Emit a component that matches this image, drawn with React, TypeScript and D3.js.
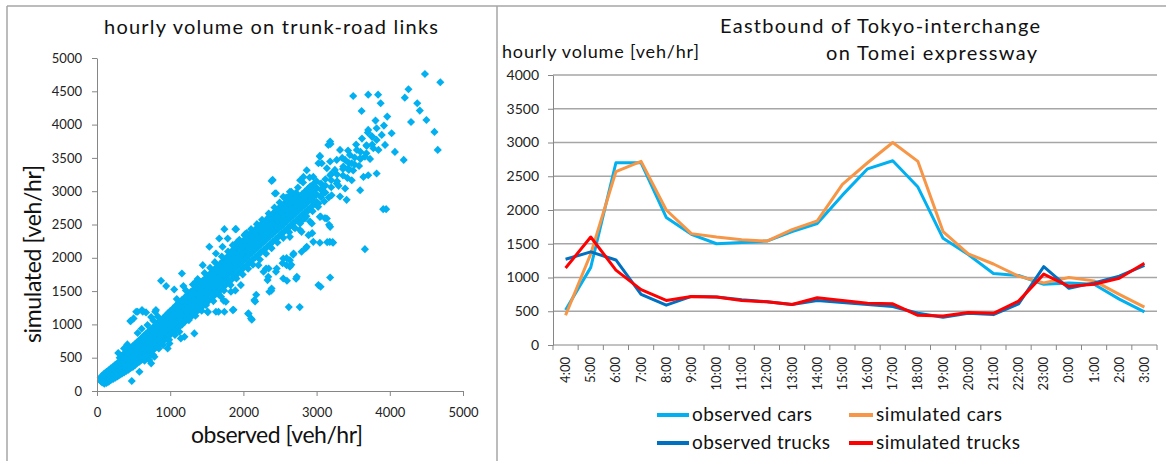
import React, { useEffect, useRef } from 'react';
import * as d3 from 'd3';

const FONT = "Lato, 'Open Sans', sans-serif";

// ---- right chart: hourly volume on the Tomei expressway ----
const HOURS = [
  '4:00', '5:00', '6:00', '7:00', '8:00', '9:00', '10:00', '11:00', '12:00', '13:00', '14:00', '15:00',
  '16:00', '17:00', '18:00', '19:00', '20:00', '21:00', '22:00', '23:00', '0:00', '1:00', '2:00', '3:00',
];
const OBSERVED_CARS = [
  520, 1150, 2700, 2700, 1890, 1640, 1500, 1520, 1540, 1680, 1800, 2220,
  2610, 2730, 2340, 1580, 1340, 1060, 1030, 900, 920, 900, 680, 490,
];
const SIMULATED_CARS = [
  440, 1350, 2570, 2720, 2000, 1650, 1600, 1560, 1540, 1710, 1840, 2380,
  2700, 3000, 2720, 1680, 1350, 1200, 1020, 920, 1000, 950, 750, 560,
];
const OBSERVED_TRUCKS = [
  1270, 1380, 1260, 750, 590, 720, 710, 670, 640, 600, 660, 630,
  600, 570, 470, 410, 470, 450, 610, 1160, 840, 920, 1020, 1180,
];
const SIMULATED_TRUCKS = [
  1140, 1600, 1110, 820, 660, 720, 710, 660, 640, 600, 700, 660,
  620, 610, 440, 430, 480, 470, 650, 1050, 870, 900, 990, 1210,
];
const VOLUME_TICKS = [0, 500, 1000, 1500, 2000, 2500, 3000, 3500, 4000];

const SERIES = [
  { name: 'observed cars', values: OBSERVED_CARS, color: '#00b0f0' },
  { name: 'simulated cars', values: SIMULATED_CARS, color: '#f79646' },
  { name: 'observed trucks', values: OBSERVED_TRUCKS, color: '#0070c0' },
  { name: 'simulated trucks', values: SIMULATED_TRUCKS, color: '#ff0000' },
];

// ---- left chart: observed vs simulated on trunk-road links ----
const LINK_TICKS = [0, 500, 1000, 1500, 2000, 2500, 3000, 3500, 4000, 4500, 5000];
const OBS_TICKS = [0, 1000, 2000, 3000, 4000, 5000];

// dense band: observed value -> simulated values read off the cloud
const BAND_ROWS: [number, number[]][] = [
  [50, [150, 200]], [70, [130, 185, 230]], [100, [110, 160, 215, 260]], [130, [120, 175, 240, 290]],
  [160, [140, 200, 255, 310]], [190, [165, 230, 285, 340]], [220, [180, 245, 305, 365]],
  [250, [200, 270, 330, 395]], [280, [220, 290, 350, 420]], [310, [240, 310, 375, 440, 500]],
  [340, [260, 330, 400, 465, 530]], [370, [280, 355, 420, 490, 560]], [400, [300, 375, 445, 515, 590]],
  [430, [320, 400, 470, 545, 620]], [460, [345, 420, 495, 570, 645]], [490, [360, 445, 520, 600, 675]],
  [520, [390, 470, 545, 625, 705]], [550, [420, 495, 575, 655, 735]], [580, [440, 525, 600, 680, 765]],
  [610, [470, 550, 630, 710, 795]], [640, [500, 580, 660, 740, 830]], [670, [525, 610, 690, 770, 860]],
  [700, [555, 640, 720, 800, 890]], [730, [580, 665, 750, 830, 915]], [760, [610, 695, 780, 860, 945]],
  [790, [640, 725, 810, 890, 975]], [820, [665, 755, 840, 920, 1005]], [850, [700, 785, 870, 950, 1040]],
  [880, [725, 815, 900, 985, 1070]], [910, [755, 845, 930, 1015, 1100]], [940, [785, 875, 960, 1045, 1135]],
  [970, [815, 905, 990, 1075, 1165]], [1000, [845, 935, 1025, 1110, 1200]], [1040, [880, 975, 1060, 1150, 1240]],
  [1080, [920, 1015, 1100, 1190, 1285]], [1120, [960, 1055, 1140, 1230, 1320]], [1160, [995, 1090, 1185, 1275, 1365]],
  [1200, [1040, 1130, 1225, 1315, 1405]], [1240, [1075, 1170, 1265, 1355, 1445]], [1280, [1110, 1210, 1300, 1395, 1485]],
  [1320, [1150, 1250, 1345, 1435, 1525]], [1360, [1190, 1290, 1385, 1475, 1565]], [1400, [1230, 1330, 1425, 1515, 1610]],
  [1440, [1270, 1370, 1465, 1555, 1650]], [1480, [1310, 1410, 1505, 1600, 1690]], [1520, [1350, 1455, 1545, 1640, 1735]],
  [1560, [1390, 1495, 1590, 1680, 1775]], [1600, [1430, 1535, 1630, 1725, 1820]], [1640, [1470, 1575, 1670, 1765, 1860]],
  [1680, [1510, 1615, 1715, 1810, 1905]], [1720, [1550, 1660, 1755, 1850, 1950]], [1760, [1595, 1700, 1800, 1895, 1990]],
  [1800, [1635, 1745, 1840, 1940, 2035]], [1840, [1675, 1785, 1885, 1980, 2080]], [1880, [1720, 1830, 1930, 2025, 2125]],
  [1920, [1760, 1870, 1970, 2070, 2170]], [1960, [1800, 1915, 2015, 2110, 2210]], [2000, [1845, 1955, 2055, 2155, 2255]],
  [2040, [1885, 1995, 2100, 2195, 2295]], [2080, [1925, 2040, 2140, 2240, 2340]], [2120, [1965, 2080, 2180, 2280, 2380]],
  [2160, [2005, 2120, 2220, 2320, 2420]], [2200, [2045, 2160, 2260, 2360, 2460]], [2240, [2085, 2200, 2300, 2400, 2500]],
  [2280, [2120, 2240, 2340, 2440, 2540]], [2320, [2160, 2280, 2380, 2480, 2580]], [2360, [2200, 2320, 2420, 2520, 2620]],
  [2400, [2240, 2360, 2460, 2560, 2660]], [2440, [2280, 2400, 2500, 2600, 2700]], [2480, [2320, 2435, 2540, 2640, 2740]],
  [2520, [2360, 2475, 2575, 2680, 2780]], [2560, [2400, 2515, 2615, 2715, 2815]], [2600, [2440, 2555, 2655, 2755, 2855]],
  [2640, [2480, 2595, 2695, 2795, 2895]], [2680, [2520, 2635, 2735, 2835, 2935]], [2720, [2560, 2675, 2775, 2875, 2975]],
  [2760, [2600, 2715, 2815, 2915]], [2800, [2640, 2755, 2855, 2955]], [2840, [2680, 2795, 2895, 2995]],
  [2880, [2720, 2835, 2935, 3035]], [2920, [2760, 2875, 2975, 3075]], [2960, [2800, 2915, 3015, 3110]],
  [3000, [2840, 2955, 3050, 3150]], [3060, [2910, 3020, 3115]], [3120, [2980, 3085, 3180]],
  [3200, [3060, 3165, 3260]], [3280, [3150, 3250]], [3360, [3235, 3335]], [3440, [3320, 3425]],
  [3520, [3400, 3505]], [3600, [3485, 3590]], [3680, [3570, 3690]], [3760, [3700, 3820]],
];

// ragged edges of the band
const FRINGE: [number, number][] = [
  [290, 570], [370, 640], [415, 700], [555, 870], [610, 935], [690, 990], [770, 1060], [830, 1120],
  [650, 455], [715, 520], [765, 545], [845, 640], [905, 690], [985, 770], [1065, 840], [1090, 1380],
  [1215, 1510], [1310, 1600], [1375, 1680], [1470, 1770], [1545, 1850], [1610, 1935], [1255, 1065],
  [1345, 1130], [1430, 1205], [1490, 1290], [1590, 1350], [1665, 1450], [1735, 1510], [1825, 1590],
  [1905, 1690], [1990, 1750], [2065, 1835], [2130, 1895], [2225, 1975], [2310, 2060], [1705, 2020],
  [1790, 2095], [1855, 2190], [1945, 2270], [2015, 2340], [2105, 2430], [2185, 2505], [2255, 2570],
  [2345, 2665], [2425, 2755], [2495, 2830], [2585, 2905], [2655, 2990], [2745, 3055], [2815, 3130],
  [2905, 3205], [2385, 2145], [2465, 2230], [2545, 2300], [2625, 2385], [2705, 2445], [2785, 2545],
  [2860, 2625], [2945, 2700], [3020, 2765], [3105, 2845], [3165, 2905], [3300, 3080], [3420, 3200],
  [3500, 3310], [3580, 3380], [3350, 3500], [3430, 3610], [3540, 3700], [3620, 3790], [3700, 3880],
];

// scattered links away from the band
const OUTLIERS: [number, number][] = [
  [4480, 4760], [4690, 4635], [3500, 4430], [3705, 4450], [3840, 4450], [3875, 4320], [3615, 4205],
  [4205, 4405], [4255, 4530], [4375, 4320], [4410, 4210], [4290, 4040], [4500, 4070], [4610, 3890],
  [4655, 3620], [3965, 4120], [4025, 3870], [4070, 3590], [4190, 3470], [3805, 4060], [3705, 3920],
  [3820, 3945], [3920, 3985], [3890, 3845], [3935, 3695], [3820, 3770], [3755, 3820], [3775, 3645],
  [3845, 3620], [3685, 3680], [3660, 3520], [3730, 3485], [3595, 3495], [3550, 3620], [3455, 3545],
  [3480, 3420], [3390, 3470], [3365, 3370], [3435, 3345], [3320, 3620], [3185, 3745], [3160, 3695],
  [3045, 3520], [3070, 3420], [3140, 3345], [3185, 3445], [3250, 3320], [3275, 3470], [3820, 3265],
  [3705, 3240], [3640, 3215], [3480, 3165], [3595, 3015], [3390, 3040], [3275, 3115], [3185, 3240],
  [3320, 2920], [3410, 2870], [3205, 2940], [3910, 2730], [3950, 2730], [3660, 2130], [3180, 2240],
  [3225, 2225], [3045, 2225], [3025, 1590], [3055, 1565], [3185, 1705], [2385, 3155], [2430, 2965],
  [2545, 2915], [2635, 2990], [2775, 3165], [2820, 3215], [2955, 3215], [2865, 3315], [3025, 3420],
  [2910, 3065], [3095, 3065], [3070, 2940], [3025, 2815], [2935, 2865], [2890, 2715], [2840, 2590],
  [2935, 2515], [3045, 2615], [3140, 2590], [3185, 2465], [2775, 2515], [2685, 2465], [2635, 2315],
  [2795, 2390], [2890, 2340], [2955, 2240], [2865, 2165], [2795, 2090], [2685, 2065], [2635, 1965],
  [2545, 1990], [2635, 1865], [2730, 1715], [2545, 1690], [2455, 1840], [2385, 1540], [2340, 1715],
  [2275, 1790], [2205, 1890], [2175, 1445], [1890, 2430], [2025, 2355], [1910, 2230], [1845, 2105],
  [2590, 1890], [2620, 1260], [2770, 1260], [2595, 1655], [2720, 1685], [2065, 1160], [2115, 1070],
  [2160, 1345], [2380, 1505], [2445, 1790], [2345, 1840], [1865, 1220], [1660, 1190], [1740, 1190],
  [1515, 1185], [1730, 1355], [1890, 1510], [475, 150], [455, 1050], [500, 1090], [555, 1190],
  [615, 1215], [670, 1180], [795, 1190], [465, 1055], [535, 1190], [625, 1190], [740, 1110],
  [805, 1215], [875, 1655], [945, 1575], [1055, 1525], [1160, 1765], [1180, 1575], [1350, 1640],
  [1445, 1890], [1535, 2165], [1670, 2290], [1740, 2430], [1900, 2430], [2045, 2370], [1625, 2065],
  [1715, 2165], [1785, 2290], [1510, 1190], [1625, 1190], [1855, 1215], [2150, 1365], [2105, 1090],
  [2070, 1165], [2330, 1665], [2355, 1490], [2310, 1840], [1965, 1590], [1830, 1490], [1760, 1340],
  [1695, 1415], [1330, 865], [1195, 815], [1125, 890], [990, 715], [965, 640], [785, 515], [740, 415],
  [580, 290], [715, 465], [1145, 790], [2400, 3170], [2445, 2970], [2620, 2920], [3045, 3530],
  [3190, 3710], [2770, 2420], [2910, 2545], [2940, 2370], [3055, 2620], [3115, 2595], [3170, 2495],
  [3220, 2235], [3145, 2235], [2850, 2145], [2680, 2045], [2590, 1995], [2535, 1920], [2655, 1895],
];

const AXIS = '#868686';
const FRAME = '#a6a6a6';

const App: React.FC = () => {
  const ref = useRef<SVGSVGElement>(null);

  useEffect(() => {
    const svg = d3.select(ref.current);
    svg.selectAll('*').remove();
    svg.style('font-family', FONT);

    // panel frame
    const frame = svg.append('g').attr('stroke', FRAME).attr('stroke-width', 1.5).attr('fill', 'none');
    frame.append('line').attr('x1', 7).attr('x2', 1166).attr('y1', 6).attr('y2', 6);
    frame.append('line').attr('x1', 7).attr('x2', 7).attr('y1', 6).attr('y2', 461);
    frame.append('line').attr('x1', 497).attr('x2', 497).attr('y1', 6).attr('y2', 461);

    // ===== scatter =====
    const sx = d3.scaleLinear().domain([0, 5000]).range([97, 463]);
    const sy = d3.scaleLinear().domain([0, 5000]).range([391, 58]);

    const points: [number, number][] = [];
    BAND_ROWS.forEach(([o, sims]) => sims.forEach((s) => points.push([o, s])));
    FRINGE.forEach((p) => points.push(p));
    OUTLIERS.forEach((p) => points.push(p));

    const diamond = d3.symbol(d3.symbolDiamond2, 42)();
    svg
      .append('g')
      .selectAll('path')
      .data(points)
      .join('path')
      .attr('d', diamond)
      .attr('fill', '#00b0f0')
      .attr('transform', (d) => `translate(${sx(d[0])},${sy(d[1])})`);

    const fmt = d3.format('d');
    const yAxisL = svg
      .append('g')
      .attr('transform', 'translate(97,0)')
      .call(d3.axisLeft(sy).tickValues(LINK_TICKS).tickFormat(fmt).tickSize(5).tickSizeOuter(0).tickPadding(10));
    const xAxisL = svg
      .append('g')
      .attr('transform', 'translate(0,391)')
      .call(d3.axisBottom(sx).tickValues(OBS_TICKS).tickFormat(fmt).tickSize(5).tickSizeOuter(0).tickPadding(12));
    [yAxisL, xAxisL].forEach((g) => {
      g.selectAll('path,line').attr('stroke', AXIS);
      g.selectAll('text').attr('font-size', 13).attr('fill', '#222').style('font-family', FONT);
    });

    svg.append('text').attr('x', 271).attr('y', 34).attr('text-anchor', 'middle')
      .attr('font-size', 20).attr('fill', '#111').attr('textLength', 334)
      .text('hourly volume on trunk-road links');
    svg.append('text').attr('transform', 'translate(41,254) rotate(-90)').attr('text-anchor', 'middle')
      .attr('font-size', 23).attr('fill', '#111').attr('textLength', 178)
      .text('simulated [veh/hr]');
    svg.append('text').attr('x', 277).attr('y', 443).attr('text-anchor', 'middle')
      .attr('font-size', 23).attr('fill', '#111').attr('textLength', 172)
      .text('observed [veh/hr]');

    // ===== time series =====
    const tx = d3.scaleBand().domain(HOURS).range([553, 1157]);
    const ty = d3.scaleLinear().domain([0, 4000]).range([345, 75]);
    const cx = (h: string) => (tx(h) as number) + tx.bandwidth() / 2;

    svg
      .append('g')
      .selectAll('line')
      .data(VOLUME_TICKS.filter((v) => v > 0))
      .join('line')
      .attr('x1', 553)
      .attr('x2', 1157)
      .attr('y1', (d) => ty(d))
      .attr('y2', (d) => ty(d))
      .attr('stroke', FRAME)
      .attr('stroke-width', 1.4);

    const yAxisR = svg
      .append('g')
      .attr('transform', 'translate(553,0)')
      .call(d3.axisLeft(ty).tickValues(VOLUME_TICKS).tickFormat(fmt).tickSize(5).tickSizeOuter(0).tickPadding(9));
    yAxisR.selectAll('path,line').attr('stroke', AXIS);
    yAxisR.selectAll('text').attr('font-size', 14).attr('fill', '#222').style('font-family', FONT);

    // x axis: baseline, ticks between categories, rotated hour labels
    svg.append('line').attr('x1', 553).attr('x2', 1157).attr('y1', 345).attr('y2', 345)
      .attr('stroke', AXIS);
    const bounds = HOURS.map((h) => tx(h) as number).concat([1157]);
    svg
      .append('g')
      .selectAll('line')
      .data(bounds)
      .join('line')
      .attr('x1', (d) => d)
      .attr('x2', (d) => d)
      .attr('y1', 345)
      .attr('y2', 350)
      .attr('stroke', AXIS);
    svg
      .append('g')
      .selectAll('text')
      .data(HOURS)
      .join('text')
      .attr('transform', (d) => `translate(${cx(d)},357) rotate(-90)`)
      .attr('text-anchor', 'end')
      .attr('dy', '0.35em')
      .attr('font-size', 13)
      .attr('fill', '#222')
      .text((d) => d);

    const line = d3
      .line<number>()
      .x((_, i) => cx(HOURS[i]))
      .y((d) => ty(d));

    SERIES.forEach((s) => {
      svg
        .append('path')
        .datum(s.values)
        .attr('fill', 'none')
        .attr('stroke', s.color)
        .attr('stroke-width', 3)
        .attr('stroke-linejoin', 'round')
        .attr('d', line);
    });

    svg.append('text').attr('x', 720).attr('y', 33).attr('font-size', 20).attr('fill', '#111')
      .attr('textLength', 320).text('Eastbound of Tokyo-interchange');
    svg.append('text').attr('x', 826).attr('y', 60).attr('font-size', 20).attr('fill', '#111')
      .attr('textLength', 211).text('on Tomei expressway');
    svg.append('text').attr('x', 502).attr('y', 58).attr('font-size', 18).attr('fill', '#111')
      .attr('textLength', 197).text('hourly volume [veh/hr]');

    // legend, two columns
    const legendPos = [
      { x: 657, y: 415, len: 120 },
      { x: 849, y: 415, len: 126 },
      { x: 657, y: 443, len: 138 },
      { x: 849, y: 443, len: 144 },
    ];
    SERIES.forEach((s, i) => {
      const p = legendPos[i];
      const w = i % 2 === 0 ? 32 : 24;
      svg.append('line').attr('x1', p.x).attr('x2', p.x + w).attr('y1', p.y).attr('y2', p.y)
        .attr('stroke', s.color).attr('stroke-width', 4);
      svg.append('text').attr('x', p.x + w + 3).attr('y', p.y + 6).attr('font-size', 19)
        .attr('fill', '#111').attr('textLength', p.len).text(s.name);
    });
  }, []);

  return (
    <svg
      ref={ref}
      width={1166}
      height={461}
      style={{ position: 'absolute', left: 0, top: 0, background: '#fff' }}
    />
  );
};

export default App;
